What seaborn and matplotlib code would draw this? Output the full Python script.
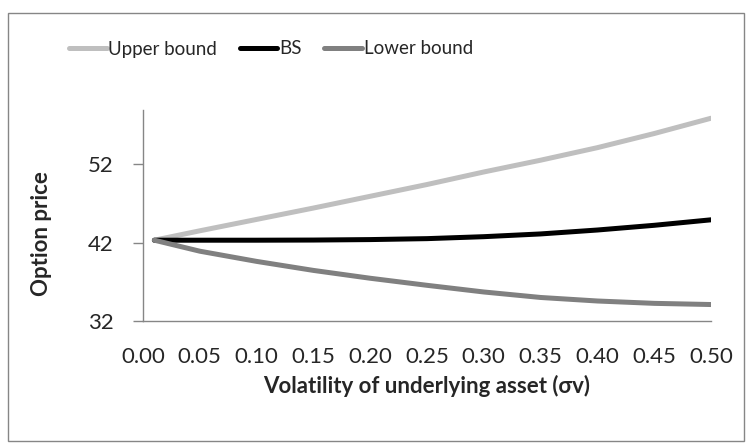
import pandas as pd
import matplotlib.pyplot as plt
import seaborn as sns
from matplotlib.patches import Rectangle

sns.set_theme(style="white")
plt.rcParams['font.family'] = ['Lato', 'DejaVu Sans']

# values
volatility = [0.01, 0.05, 0.10, 0.15, 0.20, 0.25, 0.30, 0.35, 0.40, 0.45, 0.50]
upper_bound = [42.3, 43.5, 44.95, 46.4, 47.9, 49.4, 51.0, 52.5, 54.1, 55.9, 57.85]
bs_price = [42.3, 42.3, 42.3, 42.32, 42.38, 42.5, 42.75, 43.1, 43.6, 44.2, 44.9]
lower_bound = [42.3, 40.9, 39.6, 38.45, 37.45, 36.55, 35.7, 35.0, 34.55, 34.25, 34.1]

series_names = ["Upper bound", "BS", "Lower bound"]
colors = {"Upper bound": "#BFBFBF", "BS": "#000000", "Lower bound": "#808080"}
x_ticks = [0.00, 0.05, 0.10, 0.15, 0.20, 0.25, 0.30, 0.35, 0.40, 0.45, 0.50]
y_ticks = [32, 42, 52]

df = pd.concat([
    pd.DataFrame({"vol": volatility, "price": vals, "series": name})
    for name, vals in zip(series_names, [upper_bound, bs_price, lower_bound])
])

fig = plt.figure(figsize=(7.51, 4.44), dpi=100)
ax = fig.add_axes([143/751, 1 - 321/444, (711 - 143)/751, (321 - 110)/444])

sns.lineplot(data=df, x="vol", y="price", hue="series", hue_order=series_names,
             palette=colors, linewidth=3.6, ax=ax, legend=False,
             solid_capstyle="round")

ax.set_xlim(0, 0.5)
ax.set_ylim(32, 58.9)
ax.set_xticks(x_ticks)
ax.set_xticklabels([f"{t:.2f}" for t in x_ticks])
ax.set_yticks(y_ticks)

for side in ["top", "right"]:
    ax.spines[side].set_visible(False)
for side in ["left", "bottom"]:
    ax.spines[side].set_color("#868686")
    ax.spines[side].set_linewidth(1.0)

ax.tick_params(axis="y", length=7, width=1, color="#868686", pad=14,
               labelsize=16, left=True, direction="out")
ax.tick_params(axis="x", length=0, pad=19, labelsize=16)

ax.set_xlabel("Volatility of underlying asset (σv)", fontsize=16, fontweight="bold")
ax.set_ylabel("Option price", fontsize=16, fontweight="bold")
ax.xaxis.set_label_coords(0.5, (321 - 375) / 211)
ax.yaxis.set_label_coords((52 - 143) / 568, (321 - 234) / 211)

handles = [plt.Line2D([], [], color=colors[n], lw=3.6, solid_capstyle="round") for n in series_names]
fig.legend(handles, series_names, loc="center", bbox_to_anchor=(271/751, 1 - 49/444),
           ncol=3, frameon=False, fontsize=13.5, handlelength=2.0, handletextpad=0.1,
           columnspacing=1.2, borderaxespad=0)

# chart border
fig.patches.append(Rectangle((8/751, 3/444), (744 - 8)/751, (431 - 3)/444,
                             transform=fig.transFigure, fill=False,
                             edgecolor="#868686", linewidth=1.0))

plt.savefig("out.png", dpi=100)
plt.close()
